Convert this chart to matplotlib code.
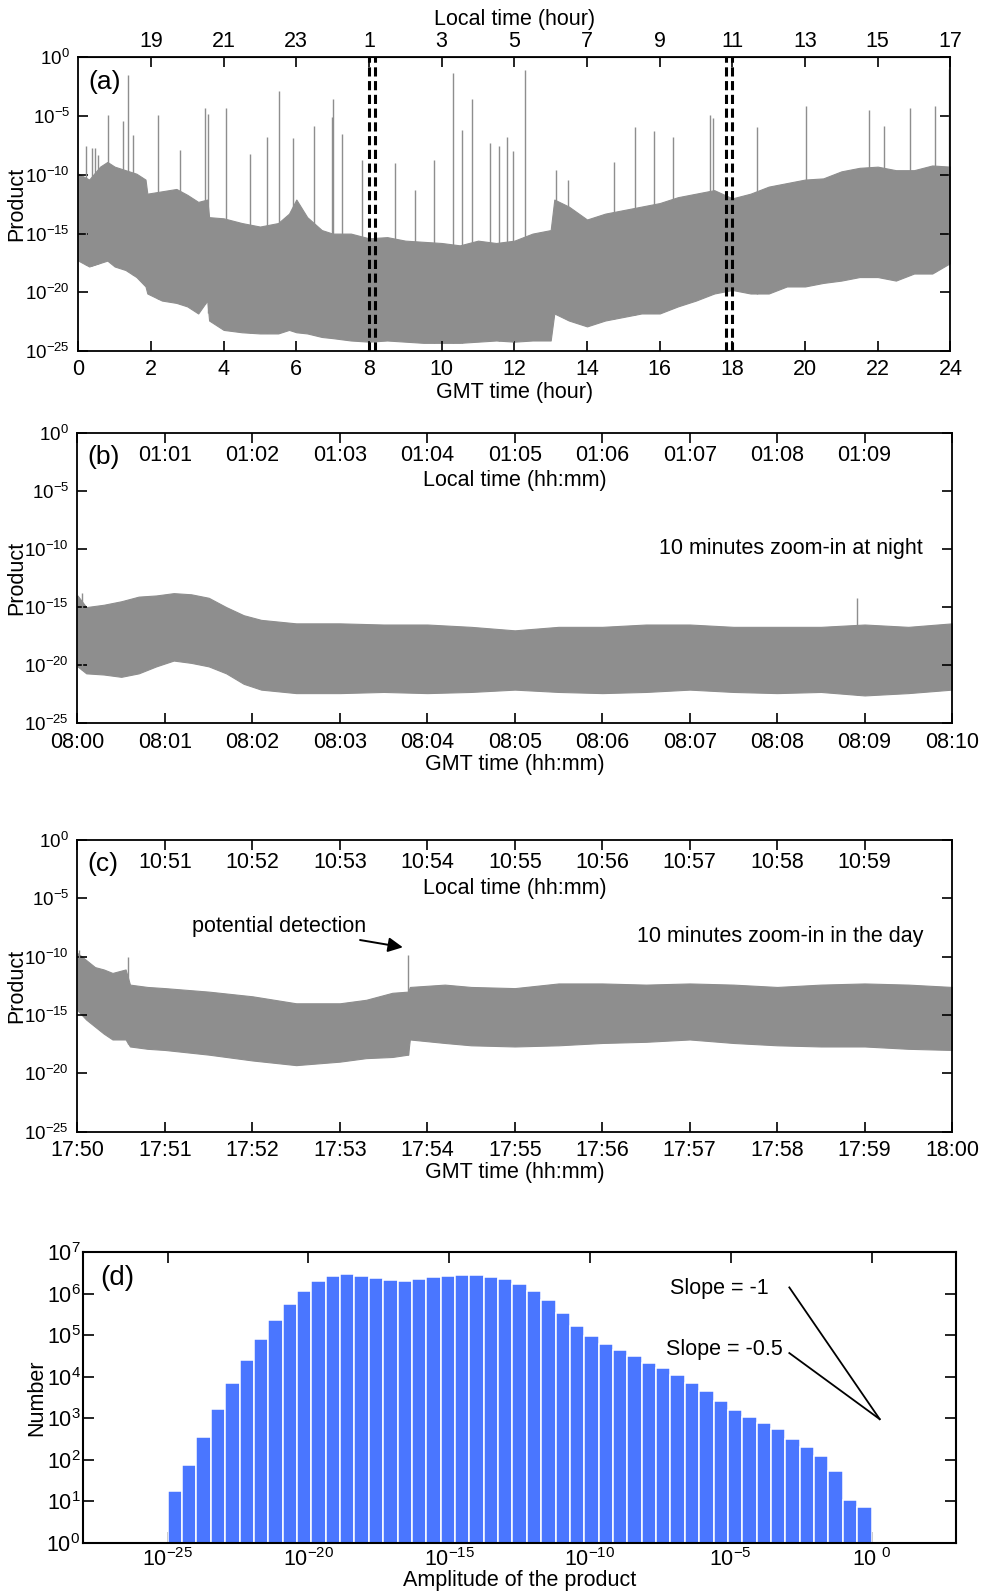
import numpy as np
import matplotlib
matplotlib.use('Agg')
from matplotlib import pyplot as plt

plt.rcParams['font.family'] = ['Liberation Sans', 'DejaVu Sans']
plt.rcParams['mathtext.fontset'] = 'custom'
plt.rcParams['mathtext.rm'] = 'Liberation Sans'
plt.rcParams['mathtext.default'] = 'regular'

# ---- panel (a): whole day, log10 of the product (envelope)
a_hour = [0, 0.3, 0.6, 0.8, 1.0, 1.3, 1.6, 1.85, 1.9, 2.3, 2.7, 3.0, 3.3, 3.55,
          3.6, 4.0, 4.5, 5.0, 5.5, 5.8, 6.0, 6.3, 6.7, 7.0, 7.5, 8.0, 8.5, 9.0,
          9.5, 10.0, 10.5, 11.0, 11.5, 12.0, 12.5, 13.0, 13.1, 13.5, 14.0, 14.5,
          15.0, 15.5, 16.0, 16.5, 17.0, 17.5, 18.0, 18.5, 19.0, 19.5, 20.0, 20.5,
          21.0, 21.5, 22.0, 22.5, 23.0, 23.5, 24.0]
a_up = [-9.9, -10.4, -9.3, -8.9, -9.3, -9.6, -9.9, -10.4, -11.6, -11.4, -11.2,
        -11.7, -12.3, -12.1, -13.6, -13.7, -14.1, -14.4, -14.1, -13.3, -12.1,
        -13.6, -14.7, -15.0, -15.0, -15.4, -15.3, -15.6, -15.7, -15.8, -16.0,
        -15.6, -15.8, -15.6, -15.0, -14.7, -12.1, -12.7, -13.8, -13.3, -13.0,
        -12.7, -12.4, -11.9, -11.6, -11.3, -12.0, -11.6, -11.0, -10.7, -10.4,
        -10.3, -9.7, -9.4, -9.3, -9.6, -9.6, -9.2, -9.3]
a_low = [-17.3, -17.8, -17.5, -17.3, -17.8, -18.1, -18.7, -19.5, -20.1, -20.7,
         -20.9, -21.2, -21.8, -20.7, -22.4, -23.2, -23.4, -23.5, -23.5, -23.2,
         -23.4, -23.5, -23.8, -23.9, -24.1, -24.2, -24.1, -24.2, -24.3, -24.3,
         -24.3, -24.2, -24.1, -24.2, -24.1, -24.1, -21.8, -22.4, -22.9, -22.4,
         -22.1, -21.8, -21.8, -21.2, -20.7, -20.1, -19.8, -20.1, -20.1, -19.5,
         -19.5, -19.2, -19.0, -18.7, -18.7, -19.0, -18.4, -18.4, -17.5]
a_spike_hour = [0.2, 0.37, 0.46, 0.55, 0.83, 1.22, 1.36, 1.51, 2.2, 2.8, 3.49,
                3.58, 4.06, 4.72, 5.18, 5.53, 5.9, 6.49, 6.97, 7.02, 7.25, 7.8,
                8.72, 9.27, 9.8, 10.3, 10.55, 10.83, 11.33, 11.58, 11.79, 11.97,
                12.28, 13.15, 13.49, 14.73, 15.32, 15.83, 16.38, 17.39, 17.48,
                18.67, 20.03, 21.75, 22.16, 22.89, 23.58, 23.97]
a_spike_top = [-7.5, -7.7, -7.7, -8.3, -4.9, -5.4, -1.5, -6.6, -4.9, -7.9, -4.3,
               -4.8, -4.3, -8.2, -6.8, -2.9, -6.9, -5.8, -5.1, -3.5, -6.5, -8.7,
               -9.0, -11.3, -8.7, -1.3, -6.2, -3.5, -7.3, -7.5, -6.8, -8.0,
               -1.1, -9.6, -10.4, -8.9, -5.9, -6.3, -6.8, -4.9, -5.2,
               -5.9, -4.1, -4.5, -5.8, -4.3, -4.1, -1.0]
a_zoom_edges = [8.0, 8.0 + 10 / 60, 17.0 + 50 / 60, 18.0]
a_gmt_ticks = list(range(0, 25, 2))
a_local_ticks = list(range(2, 25, 2))
a_local_labels = ['19', '21', '23', '1', '3', '5', '7', '9', '11', '13', '15', '17']

# ---- panel (b): 08:00-08:10 GMT (minutes)
b_min = [0, 0.1, 0.3, 0.5, 0.7, 0.9, 1.1, 1.3, 1.5, 1.7, 1.9, 2.1, 2.5, 3, 3.5,
         4, 4.5, 5, 5.5, 6, 6.5, 7, 7.5, 8, 8.5, 9, 9.5, 10]
b_up = [-14.0, -15.0, -14.8, -14.5, -14.1, -14.0, -13.8, -13.9, -14.2, -15.0,
        -15.7, -16.1, -16.4, -16.4, -16.5, -16.5, -16.7, -17.0, -16.7, -16.7,
        -16.5, -16.5, -16.7, -16.7, -16.7, -16.5, -16.7, -16.4]
b_low = [-20.1, -20.7, -20.8, -21.0, -20.7, -20.1, -19.6, -19.8, -20.1, -20.7,
         -21.6, -22.1, -22.4, -22.4, -22.3, -22.4, -22.3, -22.1, -22.3, -22.4,
         -22.3, -22.1, -22.3, -22.4, -22.3, -22.6, -22.4, -22.1]
b_spike_min = [0.05, 8.91]
b_spike_top = [-13.8, -14.2]
b_gmt_labels = ['08:00', '08:01', '08:02', '08:03', '08:04', '08:05', '08:06',
                '08:07', '08:08', '08:09', '08:10']
b_local_labels = ['01:01', '01:02', '01:03', '01:04', '01:05', '01:06', '01:07',
                  '01:08', '01:09']

# ---- panel (c): 17:50-18:00 GMT (minutes)
c_min = [0, 0.1, 0.2, 0.3, 0.4, 0.55, 0.6, 0.8, 1.0, 1.5, 2.0, 2.5, 3.0, 3.3,
         3.6, 3.78, 3.8, 4.2, 4.5, 5.0, 5.5, 6.0, 6.5, 7.0, 7.5, 8.0, 8.5, 9.0,
         9.5, 10]
c_up = [-9.7, -10.3, -10.9, -11.1, -11.4, -11.1, -12.4, -12.6, -12.7, -13.0,
        -13.4, -14.0, -14.0, -13.7, -13.1, -13.0, -12.6, -12.4, -12.6, -12.7,
        -12.3, -12.3, -12.4, -12.3, -12.4, -12.6, -12.4, -12.3, -12.4, -12.6]
c_low = [-14.6, -15.4, -16.0, -16.6, -17.1, -17.1, -17.7, -17.9, -18.0, -18.4,
         -18.9, -19.3, -19.0, -18.7, -18.6, -18.4, -17.1, -17.4, -17.6, -17.7,
         -17.6, -17.4, -17.3, -17.1, -17.4, -17.6, -17.7, -17.7, -17.9, -18.0]
c_spike_min = [0.02, 0.58, 3.78]
c_spike_top = [-9.4, -10.0, -9.9]
c_gmt_labels = ['17:50', '17:51', '17:52', '17:53', '17:54', '17:55', '17:56',
                '17:57', '17:58', '17:59', '18:00']
c_local_labels = ['10:51', '10:52', '10:53', '10:54', '10:55', '10:56', '10:57',
                  '10:58', '10:59']

# ---- panel (d): histogram of amplitudes, 49 log bins from 1e-25 to 1e0
d_counts = [18, 76, 363, 1675, 6918, 24660, 81660, 2.33e5, 5.65e5, 1.16e6,
            1.98e6, 2.6e6, 2.9e6, 2.65e6, 2.33e6, 2.09e6, 2.05e6, 2.2e6, 2.47e6,
            2.7e6, 2.86e6, 2.8e6, 2.56e6, 2.2e6, 1.74e6, 1.18e6, 6.9e5, 3.4e5,
            1.7e5, 9.5e4, 6.1e4, 4.4e4, 3.2e4, 2.2e4, 1.6e4, 1.1e4, 7.2e3,
            4.6e3, 2.65e3, 1.56e3, 1.1e3, 790, 565, 313, 209, 122, 53, 11, 7.3]
d_log_lo, d_log_hi = -25, 0
slope_x = [-2.92, 0.29]
slope1_y = [6.15, 2.98]
slope2_y = [4.57, 2.98]

gray = '#8e8e8e'
fs = 15.5
ytick_vals = [1e-25, 1e-20, 1e-15, 1e-10, 1e-5, 1e0]
ytick_labs = ['$10^{-25}$', '$10^{-20}$', '$10^{-15}$', '$10^{-10}$', '$10^{-5}$', '$10^{0}$']

fig = plt.figure(figsize=(9.81, 15.95), dpi=100)


def trace_axes(rect, x, up, low, sx, stop, xmax):
    ax = fig.add_axes(rect)
    ax.set_yscale('log')
    ax.fill_between(x, 10.0 ** np.array(low), 10.0 ** np.array(up),
                    color=gray, lw=0.8, edgecolor=gray)
    base = 10.0 ** np.interp(sx, x, low)
    ax.vlines(sx, base, 10.0 ** np.array(stop), color=gray, lw=1.0)
    ax.set_xlim(0, xmax)
    ax.set_ylim(1e-25, 1)
    ax.set_yticks(ytick_vals, ytick_labs)
    ax.minorticks_off()
    ax.tick_params(direction='in', top=True, right=True, length=7, width=1.2)
    ax.tick_params(axis='x', labelsize=fs, pad=6)
    ax.tick_params(axis='y', labelsize=13.5, pad=6)
    for s in ax.spines.values():
        s.set_linewidth(1.3)
    ax.set_ylabel('Product', fontsize=fs)
    ax.yaxis.set_label_coords(-0.058, 0.5)
    return ax


# (a)
ax = trace_axes([0.0798, 0.7799, 0.889, 0.1841], a_hour, a_up, a_low,
                a_spike_hour, a_spike_top, 24)
for xv in a_zoom_edges:
    ax.axvline(xv, color='k', ls=(0, (3, 1.5)), lw=2.2)
ax.set_xticks(a_gmt_ticks)
ax.tick_params(top=False)
ax.set_xlabel('GMT time (hour)', fontsize=fs, labelpad=1)
sec = ax.secondary_xaxis('top')
sec.set_xticks(a_local_ticks, a_local_labels)
sec.tick_params(direction='in', length=7, width=1.2, labelsize=fs, pad=4)
sec.set_xlabel('Local time (hour)', fontsize=fs, labelpad=4)
ax.text(0.011, 0.915, '(a)', transform=ax.transAxes, fontsize=19, va='center')

# (b) and (c)
minutes = list(range(11))
for rect, x, up, low, sx, stop, gl, ll, lab, note, note_y in [
        ([0.079, 0.5465, 0.8915, 0.1822], b_min, b_up, b_low, b_spike_min,
         b_spike_top, b_gmt_labels, b_local_labels, '(b)',
         '10 minutes zoom-in at night', 1e-10),
        ([0.079, 0.2905, 0.8915, 0.1829], c_min, c_up, c_low, c_spike_min,
         c_spike_top, c_gmt_labels, c_local_labels, '(c)',
         '10 minutes zoom-in in the day', 10 ** -8.3)]:
    ax = trace_axes(rect, x, up, low, sx, stop, 10)
    ax.set_xticks(minutes, gl)
    ax.set_xlabel('GMT time (hh:mm)', fontsize=fs, labelpad=1)
    for m, t in zip(minutes[1:10], ll):
        ax.text(m, 0.922, t, transform=ax.get_xaxis_transform(), fontsize=fs,
                ha='center', va='center')
    ax.text(5, 0.834, 'Local time (hh:mm)', transform=ax.get_xaxis_transform(),
            fontsize=fs, ha='center', va='center')
    ax.text(0.011, 0.918, lab, transform=ax.transAxes, fontsize=19, va='center')
    ax.text(9.67, note_y, note, fontsize=fs, ha='right', va='center')

ax.annotate('potential detection', xy=(3.72, 10 ** -9.2), xytext=(3.3, 10 ** -7.4),
            fontsize=fs, ha='right', va='center',
            arrowprops=dict(arrowstyle='-|>', color='k', lw=1.4,
                            mutation_scale=22, shrinkA=2, shrinkB=0))

# (d)
ax = fig.add_axes([0.0849, 0.0326, 0.8896, 0.1824])
edges = np.linspace(d_log_lo, d_log_hi, len(d_counts) + 1)
left = 10.0 ** edges[:-1]
width = 10.0 ** edges[1:] - left
ax.bar(left, d_counts, width=width, align='edge', color='#4a76ff',
       edgecolor='white', linewidth=1.1)
ax.set_xscale('log')
ax.set_yscale('log')
ax.set_xlim(1e-28, 1e3)
ax.set_ylim(1, 1e7)
ax.plot(10.0 ** np.array(slope_x), 10.0 ** np.array(slope1_y), color='k', lw=1.3)
ax.plot(10.0 ** np.array(slope_x), 10.0 ** np.array(slope2_y), color='k', lw=1.3)
ax.text(10 ** -3.66, 10 ** 6.13, 'Slope = -1', fontsize=fs, ha='right', va='center')
ax.text(10 ** -3.17, 10 ** 4.66, 'Slope = -0.5', fontsize=fs, ha='right', va='center')
ax.set_xticks([1e-25, 1e-20, 1e-15, 1e-10, 1e-5, 1e0],
              ['$10^{-25}$', '$10^{-20}$', '$10^{-15}$', '$10^{-10}$',
               '$10^{-5}$', '$10^{\\ 0}$'])
ax.xaxis.set_minor_locator(matplotlib.ticker.NullLocator())
ax.set_yticks([10.0 ** k for k in range(8)],
              ['$10^{%d}$' % k for k in range(8)])
ax.yaxis.set_minor_locator(matplotlib.ticker.LogLocator(base=10, subs=np.arange(2, 10)))
ax.yaxis.set_minor_formatter(matplotlib.ticker.NullFormatter())
ax.tick_params(which='both', direction='in', top=True, right=True, width=1.2)
ax.tick_params(which='major', length=8)
ax.tick_params(which='minor', length=4)
ax.tick_params(axis='x', labelsize=15.5, pad=4)
ax.tick_params(axis='y', labelsize=15.5, pad=2)
ax.set_axisbelow(True)
for s in ax.spines.values():
    s.set_linewidth(1.5)
ax.set_xlabel('Amplitude of the product', fontsize=fs, labelpad=-1)
ax.set_ylabel('Number', fontsize=fs)
ax.yaxis.set_label_coords(-0.041, 0.5)
ax.text(0.019, 0.912, '(d)', transform=ax.transAxes, fontsize=20, va='center')

fig.savefig('out.png', dpi=100)
